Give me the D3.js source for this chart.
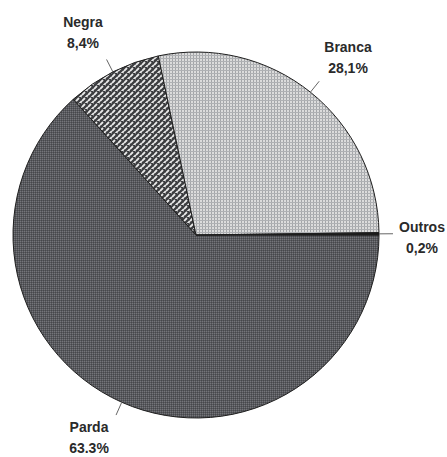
<!DOCTYPE html>
<html>
<head>
<meta charset="utf-8">
<script src="https://cdn.jsdelivr.net/npm/d3@7"></script>
<style>
  html, body { margin: 0; padding: 0; background: #fff; }
  svg { display: block; }
  text { font-family: "Liberation Sans", Arial, sans-serif; font-weight: bold; font-size: 14px; fill: #2a2a2a; }
</style>
</head>
<body>
<svg id="chart" width="447" height="457"></svg>
<script>
// Distribuição por cor/raça (%)
const categories = ["Parda", "Negra", "Branca", "Outros"];
const values = [63.3, 8.4, 28.1, 0.2];
const valueLabels = ["63.3%", "8,4%", "28,1%", "0,2%"];
const fills = ["url(#pParda)", "url(#pNegra)", "url(#pBranca)", "#1a1a1a"];

const width = 447, height = 457;
const cx = 196, cy = 235, radius = 183;

const svg = d3.select("#chart");
const defs = svg.append("defs");

// Parda: dark gray with a fine dotted screen
const pParda = defs.append("pattern").attr("id", "pParda")
  .attr("patternUnits", "userSpaceOnUse").attr("width", 2).attr("height", 2);
pParda.append("rect").attr("width", 2).attr("height", 2).attr("fill", "#58595d");
pParda.append("rect").attr("width", 1).attr("height", 1).attr("fill", "#74757a");
pParda.append("rect").attr("x", 1).attr("y", 1).attr("width", 1).attr("height", 1).attr("fill", "#46474b");

// Negra: diagonal weave of light dashes on dark
const pNegra = defs.append("pattern").attr("id", "pNegra")
  .attr("patternUnits", "userSpaceOnUse").attr("width", 6).attr("height", 6);
pNegra.append("rect").attr("width", 6).attr("height", 6).attr("fill", "#3c3d40");
pNegra.append("path").attr("d", "M0,4 L3,1 M3,7 L6,4 M-1,7 L0,6 M6,1 L7,0")
  .attr("stroke", "#e8e8e8").attr("stroke-width", 1.8).attr("fill", "none");

// Branca: light gray grid
const pBranca = defs.append("pattern").attr("id", "pBranca")
  .attr("patternUnits", "userSpaceOnUse").attr("width", 3).attr("height", 3);
pBranca.append("rect").attr("width", 3).attr("height", 3).attr("fill", "#dcdcdc");
pBranca.append("rect").attr("x", 0).attr("width", 1).attr("height", 3).attr("fill", "#a4a6a9");
pBranca.append("rect").attr("y", 0).attr("width", 3).attr("height", 1).attr("fill", "#afb1b4");

const pie = d3.pie().sort(null).value(d => d)
  .startAngle(Math.PI / 2).endAngle(Math.PI / 2 + 2 * Math.PI);
const arcs = pie(values);
const arc = d3.arc().innerRadius(0).outerRadius(radius);

const g = svg.append("g").attr("transform", `translate(${cx},${cy})`);

g.selectAll("path.slice").data(arcs).join("path")
  .attr("class", "slice")
  .attr("d", arc)
  .attr("fill", (d, i) => fills[i])
  .attr("stroke", "#1e1e1e")
  .attr("stroke-width", 1)
  .attr("stroke-linejoin", "round");

// Leader lines from each slice's mid-angle
const lineIn = d3.arc().innerRadius(radius).outerRadius(radius);
const lineOut = d3.arc().innerRadius(radius + 14).outerRadius(radius + 14);

arcs.forEach((d, i) => {
  const mid = (d.startAngle + d.endAngle) / 2;
  const dd = { startAngle: mid, endAngle: mid };
  const p0 = lineIn.centroid(dd);
  const p1 = lineOut.centroid(dd);
  g.append("line")
    .attr("x1", p0[0]).attr("y1", p0[1])
    .attr("x2", p1[0]).attr("y2", p1[1])
    .attr("stroke", "#666").attr("stroke-width", 1);
});

// Label anchor positions (relative to centre) beyond each leader line
const labelOffsets = [
  { dx: -107, dy: 197 },  // Parda
  { dx: -113, dy: -208 }, // Negra
  { dx: 152, dy: -183 },  // Branca
  { dx: 226, dy: -3 }     // Outros
];

categories.forEach((c, i) => {
  const o = labelOffsets[i];
  const t = g.append("text").attr("text-anchor", "middle")
    .attr("x", o.dx).attr("y", o.dy);
  t.append("tspan").attr("x", o.dx).attr("dy", 0).text(c);
  t.append("tspan").attr("x", o.dx).attr("dy", 21).text(valueLabels[i]);
});
</script>
</body>
</html>
